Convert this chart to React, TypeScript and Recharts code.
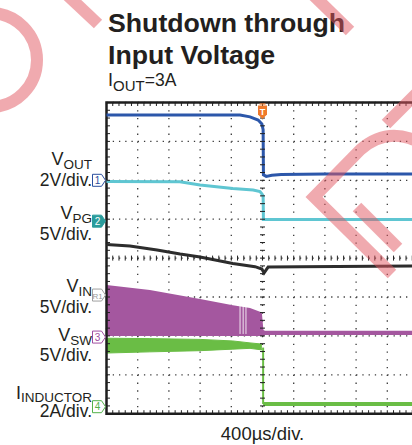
import React from "react";
import {
  ComposedChart,
  Line,
  Area,
  XAxis,
  YAxis,
  CartesianGrid,
  Scatter,
  ReferenceArea,
  ReferenceLine,
} from "recharts";

// Horizontal axis in divisions (400 µs/div), vertical axis in divisions.
const xMajorTicks = [0, 1, 2, 3, 4, 5, 6, 7, 8, 9, 10];
const yMajorTicks = [-4, -3, -2, -1, 0, 1, 2, 3, 4];
const xMinorTicks = [
  0.2, 0.4, 0.6, 0.8, 1, 1.2, 1.4, 1.6, 1.8, 2, 2.2, 2.4, 2.6, 2.8, 3, 3.2, 3.4, 3.6, 3.8, 4,
  4.2, 4.4, 4.6, 4.8, 5, 5.2, 5.4, 5.6, 5.8, 6, 6.2, 6.4, 6.6, 6.8, 7, 7.2, 7.4, 7.6, 7.8, 8,
  8.2, 8.4, 8.6, 8.8, 9, 9.2, 9.4, 9.6, 9.8,
];
const yMinorTicks = [
  -3.8, -3.6, -3.4, -3.2, -3, -2.8, -2.6, -2.4, -2.2, -2, -1.8, -1.6, -1.4, -1.2, -1, -0.8,
  -0.6, -0.4, -0.2, 0, 0.2, 0.4, 0.6, 0.8, 1, 1.2, 1.4, 1.6, 1.8, 2, 2.2, 2.4, 2.6, 2.8, 3,
  3.2, 3.4, 3.6, 3.8,
];

// VOUT (ch1, 2V/div)
const voutTrace = [
  { x: 0, y: 3.68 },
  { x: 2, y: 3.68 },
  { x: 4.28, y: 3.68 },
  { x: 4.6, y: 3.63 },
  { x: 4.86, y: 3.55 },
  { x: 4.98, y: 3.45 },
  { x: 5.02, y: 3.3 },
  { x: 5.03, y: 2.14 },
  { x: 5.12, y: 2.1 },
  { x: 5.3, y: 2.13 },
  { x: 5.6, y: 2.15 },
  { x: 7, y: 2.16 },
  { x: 10, y: 2.16 },
];

// VPG (ch2, 5V/div)
const vpgTrace = [
  { x: 0, y: 1.97 },
  { x: 2.35, y: 1.96 },
  { x: 3.0, y: 1.88 },
  { x: 4.05, y: 1.79 },
  { x: 4.7, y: 1.75 },
  { x: 4.92, y: 1.71 },
  { x: 4.98, y: 1.65 },
  { x: 5.02, y: 1.6 },
  { x: 5.03, y: 0.99 },
  { x: 10, y: 0.99 },
];

// VIN (R1, 5V/div)
const vinTrace = [
  { x: 0, y: 0.35 },
  { x: 0.75, y: 0.31 },
  { x: 1.62, y: 0.21 },
  { x: 2.36, y: 0.105 },
  { x: 3.0, y: 0.03 },
  { x: 4.05, y: -0.14 },
  { x: 4.76, y: -0.22 },
  { x: 4.98, y: -0.28 },
  { x: 5.05, y: -0.38 },
  { x: 5.18, y: -0.23 },
  { x: 6.2, y: -0.22 },
  { x: 10, y: -0.2 },
];

// VSW (ch3, 5V/div): switching envelope [low, high]
const vswBand = [
  { x: 0, range: [-2.0, -0.69] },
  { x: 1.39, range: [-2.0, -0.82] },
  { x: 3.0, range: [-2.0, -1.05] },
  { x: 4.05, range: [-2.0, -1.21] },
  { x: 4.6, range: [-2.0, -1.28] },
  { x: 4.92, range: [-2.0, -1.38] },
  { x: 4.98, range: [-2.0, -1.41] },
  { x: 5.03, range: [-2.0, -1.85] },
  { x: 5.08, range: [-1.98, -1.87] },
  { x: 10, range: [-1.98, -1.87] },
];
const vswDropouts = [
  { x: 4.28, lo: -1.95, hi: -1.08 },
  { x: 4.38, lo: -1.95, hi: -1.1 },
  { x: 4.47, lo: -1.95, hi: -1.15 },
];

// IINDUCTOR (ch4, 2A/div): ripple band [low, high]
const iindBand = [
  { x: 0, range: [-2.44, -2.06] },
  { x: 1.39, range: [-2.41, -2.07] },
  { x: 3.0, range: [-2.38, -2.09] },
  { x: 4.05, range: [-2.34, -2.13] },
  { x: 4.6, range: [-2.32, -2.18] },
  { x: 4.98, range: [-2.36, -2.21] },
];
const iindDrop = [
  { x: 5.02, y: -2.3 },
  { x: 5.02, y: -3.75 },
];
const iindAfter = [
  { x: 5.02, y: -3.75 },
  { x: 10, y: -3.75 },
];

const channelMarkers = [
  { x: 0, y: 2.0, label: "1" },
  { x: 0, y: 0.95, label: "2" },
  { x: 0, y: -0.95, label: "R1" },
  { x: 0, y: -2.03, label: "3" },
  { x: 0, y: -3.82, label: "4" },
];
const triggerMarker = [{ x: 5, y: 4, label: "T" }];

const markerStyles = [
  { stroke: "#2c4f9e", fill: "#ffffff", text: "#2c4f9e" },
  { stroke: "#2a9c9c", fill: "#2a9c9c", text: "#ffffff" },
  { stroke: "#a0a0a0", fill: "#ffffff", text: "#9a9a9a" },
  { stroke: "#a04ea0", fill: "#ffffff", text: "#a04ea0" },
  { stroke: "#52b24a", fill: "#ffffff", text: "#52b24a" },
];

const FONT = "'Liberation Sans', Arial, Helvetica, sans-serif";

const centerHTicks = xMinorTicks.map((x) => ({ x, y: 0 }));
const centerVTicks = yMinorTicks.map((y) => ({ x: 5, y }));
const bottomTicks = xMinorTicks.map((x) => ({ x, y: -4 }));
const topTicks = xMinorTicks.map((x) => ({ x, y: 4 }));
const leftTicks = yMinorTicks.map((y) => ({ x: 0, y }));

const tickColor = "#222";

const VCenterTick = (p: any) => (
  <line x1={p.cx} y1={p.cy - 2.5} x2={p.cx} y2={p.cy + 2.5} stroke={tickColor} strokeWidth={1} />
);
const HCenterTick = (p: any) => (
  <line x1={p.cx - 2.5} y1={p.cy} x2={p.cx + 2.5} y2={p.cy} stroke={tickColor} strokeWidth={1} />
);
const UpTick = (p: any) => (
  <line x1={p.cx} y1={p.cy} x2={p.cx} y2={p.cy - 3.5} stroke={tickColor} strokeWidth={1} />
);
const DownTick = (p: any) => (
  <line x1={p.cx} y1={p.cy} x2={p.cx} y2={p.cy + 3.5} stroke={tickColor} strokeWidth={1} />
);
const RightTick = (p: any) => (
  <line x1={p.cx} y1={p.cy} x2={p.cx + 3.5} y2={p.cy} stroke={tickColor} strokeWidth={1} />
);

const ChannelMarker = (p: any) => {
  const idx = channelMarkers.findIndex((m) => m.label === p.payload?.label);
  const s = markerStyles[idx < 0 ? 0 : idx];
  const cx = p.cx;
  const cy = p.cy;
  const d = `M ${cx - 14} ${cy - 6} H ${cx - 5} L ${cx - 1} ${cy} L ${cx - 5} ${cy + 6} H ${cx - 14} Z`;
  const lbl = p.payload?.label ?? "";
  return (
    <g>
      <path d={d} fill={s.fill} stroke={s.stroke} strokeWidth={1} />
      <text
        x={cx - 9}
        y={cy + 3.6}
        textAnchor="middle"
        fontSize={lbl.length > 1 ? 8 : 10}
        fontFamily={FONT}
        fill={s.text}
      >
        {lbl}
      </text>
    </g>
  );
};

const TriggerMarker = (p: any) => {
  const cx = p.cx;
  const cy = p.cy;
  const d = `M ${cx - 4.5} ${cy + 3} H ${cx + 4.5} V ${cy + 12} L ${cx} ${cy + 16.5} L ${cx - 4.5} ${cy + 12} Z`;
  return (
    <g>
      <line x1={cx - 3} y1={cy + 1.5} x2={cx + 3} y2={cy + 1.5} stroke="#f07a2a" strokeWidth={1.2} />
      <path d={d} fill="#f07a2a" />
      <text x={cx} y={cy + 12} textAnchor="middle" fontSize={9} fontWeight="bold" fontFamily={FONT} fill="#fff">
        {p.payload?.label}
      </text>
    </g>
  );
};

const labelFont = { fontFamily: FONT, fill: "#231f20" } as const;

function ChannelLabel({
  main,
  sub,
  scale,
  base,
  subBase,
  divBase,
}: {
  main: string;
  sub: string;
  scale: string;
  base: number;
  subBase: number;
  divBase: number;
}) {
  return (
    <g>
      <text x={92} y={base} textAnchor="end" fontSize={18} {...labelFont}>
        {main}
        <tspan fontSize={13.5} dy={subBase - base}>
          {sub}
        </tspan>
      </text>
      <text x={92} y={divBase} textAnchor="end" fontSize={17.5} {...labelFont}>
        {scale}
      </text>
    </g>
  );
}

const wm = { stroke: "rgba(225,85,95,0.5)", strokeWidth: 12, fill: "none" } as const;

export default function App() {
  return (
    <div
      style={{
        position: "absolute",
        left: 0,
        top: 0,
        width: 412,
        height: 445,
        overflow: "hidden",
        background: "#ffffff",
      }}
    >
      <div style={{ position: "absolute", left: 0, top: 0 }}>
        <ComposedChart
          width={430}
          height={445}
          margin={{ top: 102.5, right: 11.5, bottom: 31.3, left: 106.5 }}
        >
          <XAxis type="number" dataKey="x" domain={[0, 10]} ticks={xMajorTicks} hide />
          <YAxis type="number" domain={[-4, 4]} ticks={yMajorTicks} hide />
          <CartesianGrid
            vertical={false}
            stroke="#3a3a3a"
            strokeWidth={1.3}
            strokeDasharray="1.3 4.94"
          />
          <CartesianGrid
            horizontal={false}
            stroke="#3a3a3a"
            strokeWidth={1.3}
            strokeDasharray="1.3 6.48"
          />
          <Line
            data={vinTrace}
            dataKey="y"
            type="linear"
            stroke="#2d2d2d"
            strokeWidth={3}
            dot={false}
            isAnimationActive={false}
          />
          <Area
            data={vswBand}
            dataKey="range"
            type="linear"
            stroke="none"
            fill="#a4579f"
            fillOpacity={1}
            isAnimationActive={false}
          />
          {vswDropouts.map((d, i) => (
            <ReferenceLine
              key={`gap-${i}`}
              segment={[
                { x: d.x, y: d.lo },
                { x: d.x, y: d.hi },
              ]}
              stroke="#ffffff"
              strokeWidth={1}
              strokeOpacity={0.85}
            />
          ))}
          <Area
            data={iindBand}
            dataKey="range"
            type="linear"
            stroke="#6abd45"
            strokeWidth={1}
            fill="#6abd45"
            fillOpacity={1}
            isAnimationActive={false}
          />
          <Line
            data={iindDrop}
            dataKey="y"
            type="linear"
            stroke="#6abd45"
            strokeWidth={2}
            dot={false}
            isAnimationActive={false}
          />
          <Line
            data={iindAfter}
            dataKey="y"
            type="linear"
            stroke="#6abd45"
            strokeWidth={4}
            dot={false}
            isAnimationActive={false}
          />
          <Line
            data={vpgTrace}
            dataKey="y"
            type="linear"
            stroke="#5fc6d2"
            strokeWidth={3}
            dot={false}
            isAnimationActive={false}
          />
          <Line
            data={voutTrace}
            dataKey="y"
            type="linear"
            stroke="#2c57aa"
            strokeWidth={3}
            dot={false}
            isAnimationActive={false}
          />
          <Scatter data={centerHTicks} dataKey="y" shape={VCenterTick} isAnimationActive={false} />
          <Scatter data={centerVTicks} dataKey="y" shape={HCenterTick} isAnimationActive={false} />
          <Scatter data={bottomTicks} dataKey="y" shape={UpTick} isAnimationActive={false} />
          <Scatter data={topTicks} dataKey="y" shape={DownTick} isAnimationActive={false} />
          <Scatter data={leftTicks} dataKey="y" shape={RightTick} isAnimationActive={false} />
          <ReferenceArea
            x1={0}
            x2={10}
            y1={-4}
            y2={4}
            fill="none"
            fillOpacity={0}
            stroke="#1e1e1e"
            strokeWidth={2.5}
          />
          <Scatter data={channelMarkers} dataKey="y" shape={ChannelMarker} isAnimationActive={false} />
          <Scatter data={triggerMarker} dataKey="y" shape={TriggerMarker} isAnimationActive={false} />
        </ComposedChart>
      </div>
      <svg
        width={412}
        height={445}
        style={{ position: "absolute", left: 0, top: 0, pointerEvents: "none" }}
      >
        <text x={108} y={32.4} fontSize={26.7} fontWeight="bold" {...labelFont}>
          Shutdown through
        </text>
        <text x={108} y={63.5} fontSize={26.7} fontWeight="bold" {...labelFont}>
          Input Voltage
        </text>
        <text x={108} y={86} fontSize={18} {...labelFont}>
          I
          <tspan fontSize={15} dy={4.5}>
            OUT
          </tspan>
          <tspan fontSize={17.5} dy={-4.5}>
            =3A
          </tspan>
        </text>

        <ChannelLabel main="V" sub="OUT" scale="2V/div." base={165} subBase={169} divBase={185.5} />
        <ChannelLabel main="V" sub="PG" scale="5V/div." base={218.5} subBase={222.5} divBase={240} />
        <ChannelLabel main="V" sub="IN" scale="5V/div." base={292} subBase={296} divBase={313} />
        <ChannelLabel main="V" sub="SW" scale="5V/div." base={340.5} subBase={344.5} divBase={360.5} />
        <ChannelLabel main="I" sub="INDUCTOR" scale="2A/div." base={399} subBase={402} divBase={417} />

        <text x={262.5} y={440} textAnchor="middle" fontSize={18.5} {...labelFont}>
          400µs/div.
        </text>

        {/* watermark */}
        <circle cx={-10} cy={60} r={47} {...wm} />
        <line x1={64} y1={-8} x2={98} y2={24} {...wm} />
        <line x1={308} y1={-10} x2={350} y2={31} {...wm} />
        <line x1={386} y1={124} x2={420} y2={90} {...wm} />
        <path d="M 392 274 L 314 197 L 360 150 Q 385 128 414 140" {...wm} strokeLinejoin="miter" />
        <line x1={357} y1={207} x2={398} y2={248} {...wm} />
      </svg>
    </div>
  );
}
